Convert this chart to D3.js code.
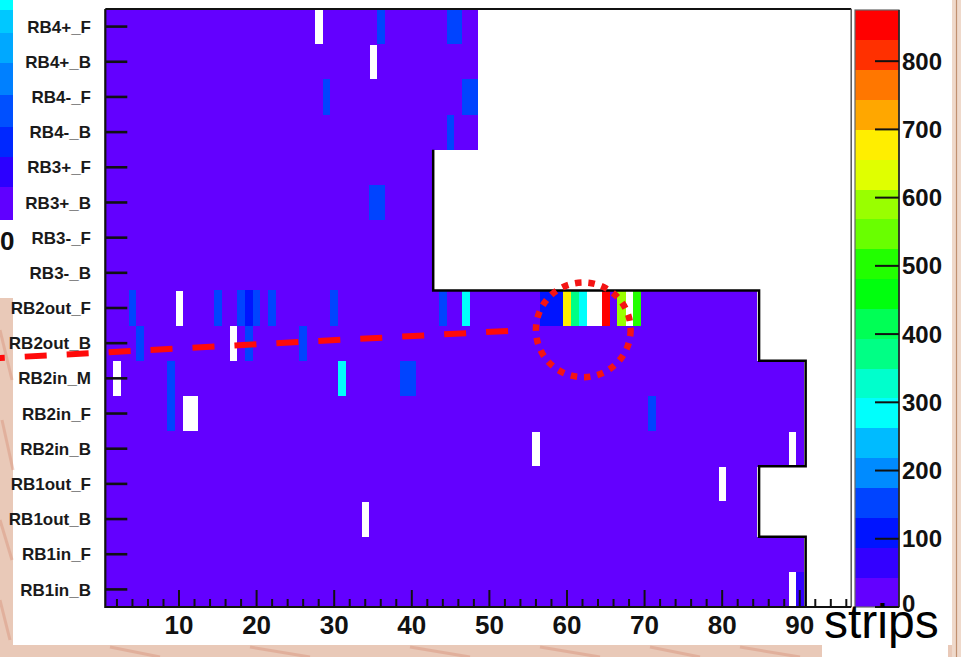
<!DOCTYPE html>
<html><head><meta charset="utf-8">
<script src="https://cdn.jsdelivr.net/npm/d3@7"></script>
<style>html,body{margin:0;padding:0;background:#fff;overflow:hidden}svg{display:block}</style>
</head><body>
<script>
// ---------------- data ----------------
const rowLabels = ["RB4+_F","RB4+_B","RB4-_F","RB4-_B","RB3+_F","RB3+_B","RB3-_F","RB3-_B",
  "RB2out_F","RB2out_B","RB2in_M","RB2in_F","RB2in_B","RB1out_F","RB1out_B","RB1in_F","RB1in_B"];
const stripCounts = [48,48,48,48,42,42,42,42,84,84,90,90,90,84,84,90,90];
const baseRate = 25;
// [row, strip, value]  (value 0 = dead strip, not drawn)
const specialCells = [
  ["RB4+_F",28,0],["RB4+_F",36,150],["RB4+_F",45,150],["RB4+_F",46,150],
  ["RB4+_B",35,0],
  ["RB4-_F",29,150],["RB4-_F",47,150],["RB4-_F",48,150],
  ["RB4-_B",45,150],
  ["RB3+_B",35,150],["RB3+_B",36,150],
  ["RB2out_F",4,150],["RB2out_F",10,0],["RB2out_F",15,140],["RB2out_F",18,140],["RB2out_F",19,120],
  ["RB2out_F",20,150],["RB2out_F",22,140],["RB2out_F",30,140],["RB2out_F",44,140],["RB2out_F",47,290],
  ["RB2out_F",57,110],["RB2out_F",58,110],["RB2out_F",59,110],["RB2out_F",60,680],["RB2out_F",61,370],
  ["RB2out_F",62,290],["RB2out_F",63,0],["RB2out_F",64,0],["RB2out_F",65,860],["RB2out_F",67,590],
  ["RB2out_F",68,0],["RB2out_F",69,490],
  ["RB2out_B",5,150],["RB2out_B",17,0],["RB2out_B",19,150],["RB2out_B",26,140],
  ["RB2in_M",2,0],["RB2in_M",9,150],["RB2in_M",31,290],["RB2in_M",39,150],["RB2in_M",40,150],
  ["RB2in_F",9,150],["RB2in_F",11,0],["RB2in_F",12,0],["RB2in_F",71,150],
  ["RB2in_B",56,0],["RB2in_B",89,0],
  ["RB1out_F",80,0],
  ["RB1out_B",34,0],
  ["RB1in_B",89,0],["RB1in_B",90,65]
];
const xTickValues = [10,20,30,40,50,60,70,80,90];
const xMinorValues = d3.range(2,97,2).filter(v => v % 10 !== 0);
const zTickValues = [0,100,200,300,400,500,600,700,800];
const zMax = 875;
const palette = ["#6300ff","#3300ff","#0014ff","#0044ff","#008bff","#00bbff","#00fffc","#00ffcc",
  "#00ff85","#00ff55","#00ff0e","#22ff00","#69ff00","#99ff00","#e0ff00","#ffee00",
  "#ffa700","#ff7700","#ff3000","#ff0000"];
const xLabel = "strips";
// annotation (data units: strip, row index)
const dashLine = [[-13.1, 9.92],[52.6, 9.15]];
const ringCenter = [62.1, 9.12];

// ---------------- layout ----------------
const W = 961, H = 657;
const svg = d3.select("body").append("svg").attr("width", W).attr("height", H);
const font = "'Liberation Sans', Arial, Helvetica, sans-serif";

const plotL = 105.3, plotR = 850.2, plotT = 9, plotB = 607;
const x = d3.scaleLinear().domain([0.5, 96.5]).range([plotL, plotR]);
const y = d3.scaleBand().domain(rowLabels).range([plotT, plotB]).padding(0);
const yRow = d3.scaleLinear().domain([0, rowLabels.length]).range([plotT, plotB]);
const color = d3.scaleQuantize().domain([0, zMax]).range(palette);
const zScale = d3.scaleLinear().domain([0, zMax]).range([plotB, 10]);

// ---------------- background decoration ----------------
const bgPink = "#e9c9b8";
const bg = svg.append("g");
bg.append("rect").attr("x",0).attr("y",298).attr("width",13).attr("height",H-298).attr("fill",bgPink);
bg.append("rect").attr("x",0).attr("y",645).attr("width",W).attr("height",12).attr("fill",bgPink);
bg.append("rect").attr("x",952).attr("y",0).attr("width",9).attr("height",H).attr("fill","#efd9cb");
bg.append("line").attr("x1",956.5).attr("x2",956.5).attr("y1",0).attr("y2",H).attr("stroke","#c09070").attr("stroke-width",1.2);
const streaks = [[0,330,12,380],[2,420,13,470],[0,520,12,560],[0,600,10,640],
  [110,647,160,657],[250,647,310,657],[410,647,470,657],[540,647,600,657],[650,647,700,657],[740,647,800,657]];
bg.selectAll("line.st").data(streaks).join("line").attr("class","st")
  .attr("x1",d=>d[0]).attr("y1",d=>d[1]).attr("x2",d=>d[2]).attr("y2",d=>d[3])
  .attr("stroke","#d9937c").attr("stroke-width",3).attr("opacity",0.45);
// fragment of another colour bar at top-left
const fragColors = ["#6000ff","#2c00ff","#0028ff","#0050ff","#0080ff","#00a8ff","#00c8ff","#00ffff"];
const fragEdges = [220,187,157,127,95,63,33,10,0];
bg.selectAll("rect.frag").data(fragColors).join("rect").attr("class","frag")
  .attr("x",0).attr("width",13)
  .attr("y",(d,i) => fragEdges[i+1]).attr("height",(d,i) => fragEdges[i]-fragEdges[i+1])
  .attr("fill",d => d);
bg.append("text").attr("x",0).attr("y",250)
  .attr("font-family",font).attr("font-weight","bold").attr("font-size",26).attr("fill","#111").text("0");

// ---------------- cells ----------------
const override = new Map(specialCells.map(d => [d[0]+"|"+d[1], d[2]]));
const cells = [];
rowLabels.forEach((r,i) => {
  for (let s = 1; s <= stripCounts[i]; s++) {
    const k = r+"|"+s;
    cells.push({row:r, strip:s, value: override.has(k) ? override.get(k) : baseRate});
  }
});
svg.append("g").selectAll("rect").data(cells.filter(d => d.value > 0)).join("rect")
  .attr("x", d => x(d.strip-0.5))
  .attr("y", d => y(d.row))
  .attr("width", d => x(d.strip+0.5)-x(d.strip-0.5)+0.4)
  .attr("height", y.bandwidth()+0.4)
  .attr("fill", d => color(d.value))
  .attr("shape-rendering","crispEdges");

// outline of the populated area (RB3 downward)
const outline = [];
for (let i = 4; i < rowLabels.length; i++) {
  const xe = x(stripCounts[i]+0.5) + 2;
  outline.push([xe, yRow(i)]);
  outline.push([xe, yRow(i+1)]);
}
svg.append("path").attr("d", d3.line()(outline)).attr("fill","none")
  .attr("stroke","#000").attr("stroke-width",2.5);

// ---------------- frame & axes ----------------
const ax = svg.append("g").attr("stroke","#111");
ax.append("line").attr("x1",plotL).attr("x2",plotR+1).attr("y1",plotT).attr("y2",plotT).attr("stroke-width",2);
ax.append("line").attr("x1",plotR+1).attr("x2",plotR+1).attr("y1",plotT).attr("y2",plotB).attr("stroke","#555").attr("stroke-width",1.5);
ax.append("line").attr("x1",plotL).attr("x2",plotL).attr("y1",plotT).attr("y2",plotB+1).attr("stroke-width",2.2);
ax.append("line").attr("x1",plotL).attr("x2",plotR+1).attr("y1",plotB).attr("y2",plotB).attr("stroke-width",2.2);

// x ticks
ax.selectAll("line.xt").data(xTickValues).join("line").attr("class","xt")
  .attr("x1",d=>x(d)).attr("x2",d=>x(d)).attr("y1",plotB).attr("y2",plotB-17).attr("stroke-width",2);
ax.selectAll("line.xm").data(xMinorValues).join("line").attr("class","xm")
  .attr("x1",d=>x(d)).attr("x2",d=>x(d)).attr("y1",plotB).attr("y2",plotB-8).attr("stroke-width",2);
svg.append("g").selectAll("text").data(xTickValues).join("text")
  .attr("x",d=>x(d)).attr("y",634).attr("text-anchor","middle")
  .attr("font-family",font).attr("font-weight","bold").attr("font-size",26).attr("fill","#111")
  .text(d=>d);

// y ticks
ax.selectAll("line.yt").data(rowLabels).join("line").attr("class","yt")
  .attr("x1",plotL).attr("x2",plotL+22)
  .attr("y1",d=>y(d)+y.bandwidth()/2).attr("y2",d=>y(d)+y.bandwidth()/2).attr("stroke-width",2.6);
svg.append("g").selectAll("text").data(rowLabels).join("text")
  .attr("x",91).attr("y",d=>y(d)+y.bandwidth()/2).attr("dy","0.36em").attr("text-anchor","end")
  .attr("font-family",font).attr("font-weight","bold").attr("font-size",17).attr("fill","#1a1a1a")
  .text(d=>d);

// ---------------- colour bar ----------------
const cbL = 855, cbR = 899;
const levels = d3.range(palette.length);
const step = zMax / palette.length;
svg.append("g").selectAll("rect").data(levels).join("rect")
  .attr("x",cbL).attr("width",cbR-cbL)
  .attr("y",d=>zScale((d+1)*step)).attr("height",d=>zScale(d*step)-zScale((d+1)*step)+0.4)
  .attr("fill",d=>palette[d]).attr("shape-rendering","crispEdges");
svg.append("rect").attr("x",cbL).attr("y",zScale(zMax)).attr("width",cbR-cbL).attr("height",zScale(0)-zScale(zMax))
  .attr("fill","none").attr("stroke","#666").attr("stroke-width",1.2);
svg.append("line").attr("x1",cbR).attr("x2",cbR).attr("y1",zScale(zMax)).attr("y2",zScale(0)).attr("stroke","#222").attr("stroke-width",1.6);
svg.append("g").selectAll("line").data(zTickValues).join("line")
  .attr("x1",cbR-24).attr("x2",cbR).attr("y1",d=>zScale(d)).attr("y2",d=>zScale(d))
  .attr("stroke","#111").attr("stroke-width",2);
svg.append("g").selectAll("text").data(zTickValues.filter(d => d > 0)).join("text")
  .attr("x",902).attr("y",d=>zScale(d)).attr("dy","0.36em")
  .attr("font-family",font).attr("font-weight","bold").attr("font-size",24).attr("fill","#111")
  .text(d=>d);
// the zero label sits partly under the axis title, as in the original
svg.append("text").attr("x",902).attr("y",zScale(0)).attr("dy","0.2em")
  .attr("font-family",font).attr("font-weight","bold").attr("font-size",24).attr("fill","#111").text(zTickValues[0]);

// x title
svg.append("rect").attr("x",822).attr("y",613).attr("width",126).attr("height",44).attr("fill","#fff");
svg.append("text").attr("x",824).attr("y",638).attr("font-family",font).attr("font-size",48).attr("fill","#000").text(xLabel);

// ---------------- annotation ----------------
svg.append("line")
  .attr("x1",x(dashLine[0][0])).attr("y1",yRow(dashLine[0][1]))
  .attr("x2",x(dashLine[1][0])).attr("y2",yRow(dashLine[1][1]))
  .attr("stroke","#ff0a0a").attr("stroke-width",6).attr("stroke-dasharray","22 20").attr("stroke-dashoffset",17);
svg.append("circle").attr("cx",x(ringCenter[0])).attr("cy",yRow(ringCenter[1]))
  .attr("r",x(6.1)-x(0)).attr("fill","none")
  .attr("stroke","#f41414").attr("stroke-width",6.5).attr("stroke-dasharray","6.5 6.9");
</script>
</body></html>
